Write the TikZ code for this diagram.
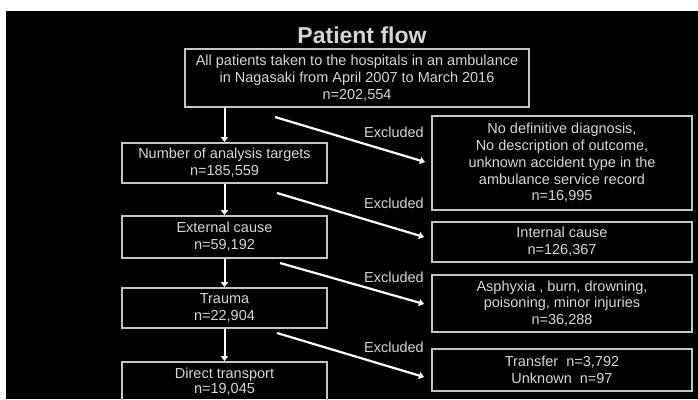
\documentclass[tikz,border=0pt]{standalone}
\usepackage{fontspec}
\setmainfont{Liberation Sans}
\usetikzlibrary{arrows.meta,calc}
\definecolor{boxline}{HTML}{C4C4C4}
\definecolor{txt}{HTML}{D6D6D6}
\begin{document}
\begin{tikzpicture}[x=1pt,y=-1pt,
  flowbox/.style={draw=boxline,line width=1.8pt,text=txt,align=center,inner sep=0pt,
    font=\fontsize{14.5}{16.8}\selectfont},
  leftbox/.style={flowbox,minimum width=205pt},
  rightbox/.style={flowbox,minimum width=260pt},
  exlabel/.style={text=txt,anchor=east,inner sep=0pt,font=\fontsize{14.5}{17}\selectfont},
  downarrow/.style={draw=white,line width=2pt,-{Triangle[width=7pt,length=5pt]}},
  exarrow/.style={draw=white,line width=2.2pt,-{Triangle[width=7pt,length=5pt]}}]
\useasboundingbox (0,0) rectangle (698,399);
\clip (0,0) rectangle (698,399);
\fill[white] (0,0) rectangle (698,399);
\fill[black] (6,11) rectangle (698,399);

\node[text=txt,anchor=base,font=\bfseries\fontsize{23}{27}\selectfont] (title) at (362,43) {Patient flow};

\node[flowbox,minimum width=344pt,minimum height=58pt] (T) at (357,78)
  {All patients taken to the hospitals in an ambulance\\in Nagasaki from April 2007 to March 2016\\n=202,554};

\node[leftbox,minimum height=40pt] (L1) at (224.5,163) {Number of analysis targets\\n=185,559};
\node[leftbox,minimum height=42pt] (L2) at (224.5,237) {External cause\\n=59,192};
\node[leftbox,minimum height=40pt] (L3) at (224.5,308) {Trauma\\n=22,904};
\node[leftbox,minimum height=39pt,font=\fontsize{14.5}{15}\selectfont] (L4) at (224.5,381.5) {Direct transport\\n=19,045};

\node[rightbox,minimum height=94pt] (R1) at (562,163)
  {No definitive diagnosis,\\No description of outcome,\\unknown accident type in the\\ambulance service record\\n=16,995};
\node[rightbox,minimum height=40pt] (R2) at (562,242) {Internal cause\\n=126,367};
\node[rightbox,minimum height=57pt] (R3) at (562,303.5) {Asphyxia , burn, drowning,\\poisoning, minor injuries\\n=36,288};
\node[rightbox,minimum height=42pt] (R4) at (562,370) {Transfer\ \ n=3,792\\Unknown\ \ n=97};

\node[exlabel] (x1) at (424,132) {Excluded};
\node[exlabel] (x2) at (424,203) {Excluded};
\node[exlabel] (x3) at (424,277) {Excluded};
\node[exlabel] (x4) at (424,347) {Excluded};

\draw[downarrow] (L1.north |- T.south) -- (L1.north);
\draw[downarrow] (L1.south) -- (L2.north);
\draw[downarrow] (L2.south) -- (L3.north);
\draw[downarrow] (L3.south) -- (L4.north);

\coordinate (s1) at (275,117); \coordinate (e1) at (425,162);
\coordinate (s2) at (277,193); \coordinate (e2) at (424,237);
\coordinate (s3) at (280,263); \coordinate (e3) at (424,304);
\coordinate (s4) at (277,333); \coordinate (e4) at (424,377);
\draw[exarrow] (s1) -- (e1);
\draw[exarrow] (s2) -- (e2);
\draw[exarrow] (s3) -- (e3);
\draw[exarrow] (s4) -- (e4);
\end{tikzpicture}
\end{document}
